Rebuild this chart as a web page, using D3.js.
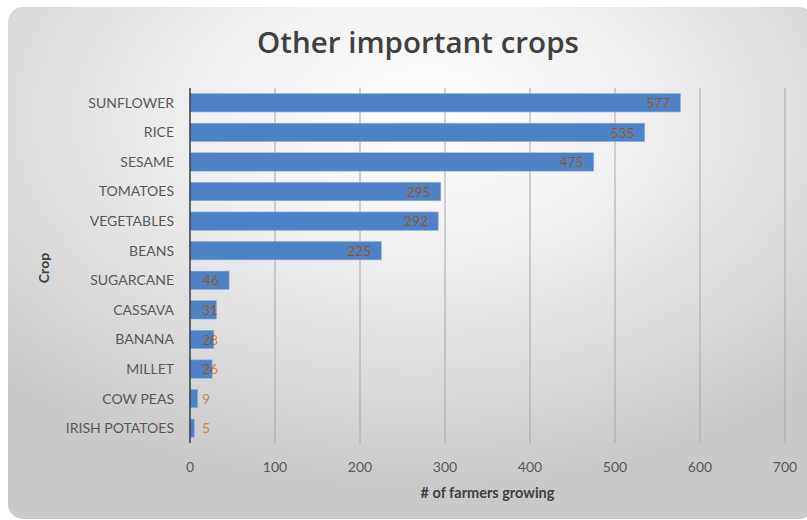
<!DOCTYPE html>
<html>
<head>
<meta charset="utf-8">
<script src="https://cdn.jsdelivr.net/npm/d3@7"></script>
<style>
  html, body { margin: 0; padding: 0; background: #ffffff; }
  svg { display: block; }
</style>
</head>
<body>
<svg id="chart" width="807" height="520"></svg>
<script>
// Crops and number of farmers growing each one
const crops = ["SUNFLOWER", "RICE", "SESAME", "TOMATOES", "VEGETABLES", "BEANS",
               "SUGARCANE", "CASSAVA", "BANANA", "MILLET", "COW PEAS", "IRISH POTATOES"];
const farmers = [577, 535, 475, 295, 292, 225, 46, 31, 28, 26, 9, 5];
const xTicks = [0, 100, 200, 300, 400, 500, 600, 700];

const titleText = "Other important crops";
const xTitle = "# of farmers growing";
const yTitle = "Crop";

const svg = d3.select("#chart");
const font = "Lato, 'Open Sans', sans-serif";

// Card background with a soft radial gradient
const defs = svg.append("defs");
const grad = defs.append("radialGradient")
  .attr("id", "bg").attr("cx", "50%").attr("cy", "22%").attr("r", "72%")
  .attr("fx", "52%").attr("fy", "20%");
grad.append("stop").attr("offset", "0%").attr("stop-color", "#ffffff");
grad.append("stop").attr("offset", "40%").attr("stop-color", "#efefef");
grad.append("stop").attr("offset", "100%").attr("stop-color", "#c9c9c9");

svg.append("rect")
  .attr("x", 8).attr("y", 7).attr("width", 806).attr("height", 512)
  .attr("rx", 15).attr("fill", "url(#bg)");

const plot = { left: 190, right: 785, top: 88, bottom: 443 };

const x = d3.scaleLinear().domain([0, 700]).range([plot.left, plot.right]);
const y = d3.scaleBand().domain(crops).range([plot.top, plot.bottom]).paddingInner(0.38).paddingOuter(0.19);

// Vertical gridlines
svg.append("g").selectAll("line").data(xTicks.slice(1)).join("line")
  .attr("x1", d => x(d)).attr("x2", d => x(d))
  .attr("y1", plot.top).attr("y2", plot.bottom)
  .attr("stroke", "#a8a8a8").attr("stroke-width", 1);

// Bars
const data = crops.map((c, i) => ({ crop: c, value: farmers[i] }));
svg.append("g").selectAll("rect").data(data).join("rect")
  .attr("x", x(0)).attr("y", d => y(d.crop))
  .attr("width", d => x(d.value) - x(0)).attr("height", y.bandwidth())
  .attr("fill", "#4f81c6").attr("stroke", "#8cb0de").attr("stroke-width", 0.6);

// Category axis line
svg.append("line")
  .attr("x1", x(0)).attr("x2", x(0)).attr("y1", plot.top).attr("y2", plot.bottom)
  .attr("stroke", "#3a3a3a").attr("stroke-width", 1.5);

// Category labels
svg.append("g").selectAll("text").data(crops).join("text")
  .attr("x", 174).attr("y", d => y(d) + y.bandwidth() / 2)
  .attr("dy", "0.35em").attr("text-anchor", "end")
  .attr("font-family", font).attr("font-size", 14).attr("fill", "#595959")
  .text(d => d);

// Value axis tick labels
svg.append("g").selectAll("text").data(xTicks).join("text")
  .attr("x", d => x(d)).attr("y", 467).attr("dy", "0.35em")
  .attr("text-anchor", "middle")
  .attr("font-family", font).attr("font-size", 14).attr("fill", "#595959")
  .text(d => d);

// Data labels: dark over the bar, orange outside it
const labelsG = svg.append("g");
data.forEach((d, i) => {
  const barEnd = x(d.value);
  const wide = barEnd - x(0) > 32;
  const lx = wide ? barEnd - 10 : x(0) + 12;
  const anchor = wide ? "end" : "start";
  const cy = y(d.crop) + y.bandwidth() / 2;
  const clipId = "clip" + i;
  defs.append("clipPath").attr("id", clipId).append("rect")
    .attr("x", x(0)).attr("y", y(d.crop))
    .attr("width", barEnd - x(0)).attr("height", y.bandwidth());
  labelsG.append("text")
    .attr("x", lx).attr("y", cy).attr("dy", "0.37em").attr("text-anchor", anchor)
    .attr("font-family", font).attr("font-size", 14).attr("fill", "#cf8848")
    .text(d.value);
  labelsG.append("text")
    .attr("clip-path", `url(#${clipId})`)
    .attr("x", lx).attr("y", cy).attr("dy", "0.37em").attr("text-anchor", anchor)
    .attr("font-family", font).attr("font-size", 14).attr("fill", "#6e5a4c")
    .text(d.value);
});

// Chart title, sized to span its slot above the plot
const title = svg.append("text")
  .attr("x", 418).attr("y", 53).attr("text-anchor", "middle")
  .attr("font-family", "'Open Sans', Lato, sans-serif").attr("font-weight", 600)
  .attr("font-size", 26).attr("fill", "#404040").text(titleText);
const tw = title.node().getComputedTextLength();
title.attr("font-size", 26 * 322 / tw);

svg.append("text")
  .attr("x", (plot.left + plot.right) / 2).attr("y", 498).attr("text-anchor", "middle")
  .attr("font-family", font).attr("font-weight", 700).attr("font-size", 14.5)
  .attr("fill", "#404040").text(xTitle);

svg.append("text")
  .attr("transform", `translate(49, 268) rotate(-90)`)
  .attr("text-anchor", "middle")
  .attr("font-family", font).attr("font-weight", 700).attr("font-size", 14)
  .attr("fill", "#404040").text(yTitle);
</script>
</body>
</html>
